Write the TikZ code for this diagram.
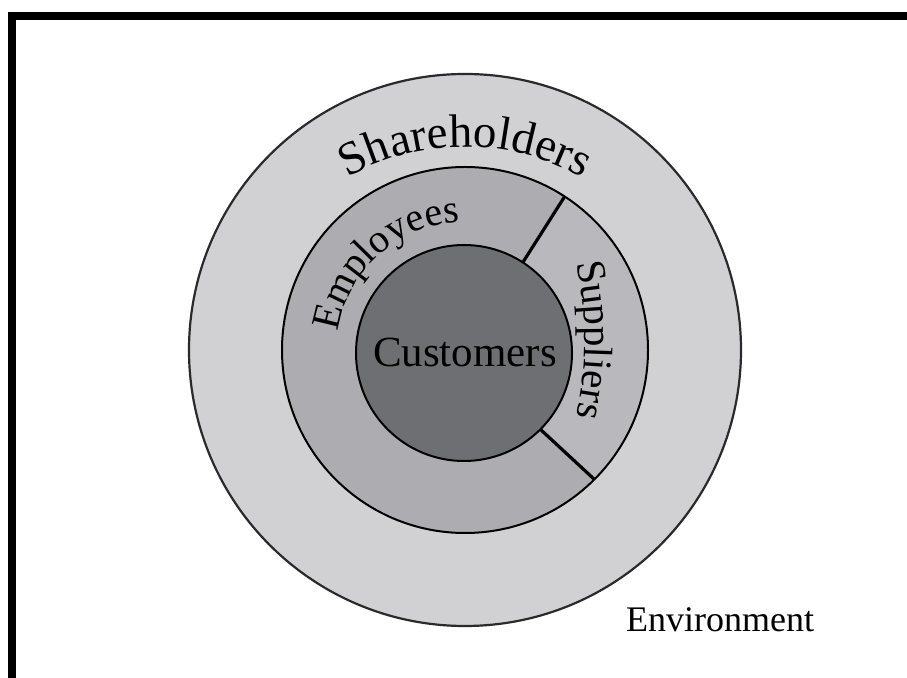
\documentclass[tikz,border=0pt]{standalone}
\usepackage{fontspec}
\setmainfont{Liberation Serif}
\usetikzlibrary{decorations.text}

\definecolor{ringshare}{HTML}{D1D1D3}
\definecolor{ringemp}{HTML}{ADADB1}
\definecolor{ringsup}{HTML}{B9B9BD}
\definecolor{corecust}{HTML}{6E6F73}
\definecolor{rimdark}{HTML}{2A2A2A}

\tikzset{
  disc/.style={circle, inner sep=0pt, outer sep=0pt},
  rim/.style={draw=black, line width=2pt},
  divider/.style={draw=black, line width=3.2pt},
  frameline/.style={draw=black, line width=8pt, line join=miter},
  arclabel/.style={decorate, decoration={text along path, text align=center,
      text format delimiters={|}{|}, text={#1}}},
}

\begin{document}
\begin{tikzpicture}[x=1pt, y=1pt]
  \useasboundingbox (0,0) rectangle (907,677);
  \clip (0,0) rectangle (907,677);

  % page frame, open at the bottom and right
  \coordinate (fbl) at (12,-10);
  \coordinate (ftl) at (12,661);
  \coordinate (ftr) at (920,661);
  \draw[frameline] (fbl) -- (ftl) -- (ftr);

  \coordinate (c) at (465,327);

  % outer ring: shareholders
  \node[disc, fill=ringshare, draw=rimdark, line width=2.2pt, minimum size=552pt] (share) at (c) {};

  % middle ring: employees, with the suppliers sector
  \node[disc, fill=ringemp, minimum size=366pt] (emp) at (c) {};
  \fill[ringsup] (c) -- ++(57:183pt) arc[start angle=57, end angle=-45, radius=183pt] -- cycle;
  \node[disc, rim, minimum size=366pt] (emprim) at (c) {};

  % core: customers
  \node[disc, rim, fill=corecust, minimum size=216pt] (cust) at (464,324) {};
  \node (custlabel) at (465,325) {\fontsize{43}{43}\selectfont Customers};

  % sector boundaries of the suppliers
  \draw[divider] (cust.57) -- (emp.57);
  \draw[divider] (cust.-45) -- (emp.-45);

  % curved ring labels
  \path[arclabel={|\fontsize{47}{47}\selectfont|Shareholders}]
    (465,290) ++(128:240pt) arc[start angle=128, end angle=52, radius=240pt];
  \path[arclabel={|\fontsize{40}{40}\selectfont|Employees}]
    (c) ++(176:128pt) arc[start angle=176, end angle=88, radius=128pt];
  \path[arclabel={|\fontsize{41}{41}\selectfont|Suppliers}]
    (236,337) ++(16:349pt) arc[start angle=16, end angle=-16, radius=349pt];

  \node (env) at (720,57) {\fontsize{36}{36}\selectfont Environment};
\end{tikzpicture}
\end{document}
